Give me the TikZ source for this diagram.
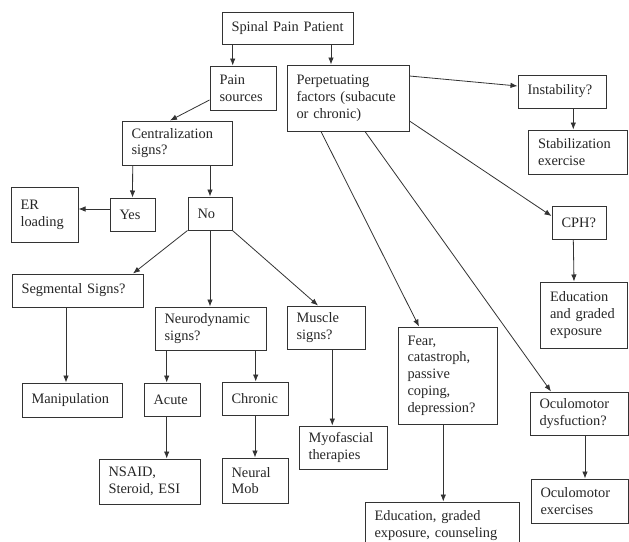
\documentclass[tikz,border=0pt]{standalone}
\usepackage{fontspec}
\setmainfont{Liberation Serif}
\usetikzlibrary{arrows.meta}
\hyphenpenalty=10000
\exhyphenpenalty=10000
\begin{document}
\begin{tikzpicture}[x=1pt,y=-1pt,
  bx/.style 2 args={draw=black!80, line width=1pt, inner xsep=9.5pt, inner ysep=0pt,
    align=left, text=black!85, font=\fontsize{14.4}{16.8}\selectfont,
    text width=#1, minimum height=#2},
  arr/.style={draw=black!80, line width=0.8pt, -{Latex[length=7pt,width=5.5pt]}}]
\clip (0,0) rectangle (629,541);
\fill[white] (0,0) rectangle (629,541);
% boxes
\node[bx={112pt}{32pt}] (spinal) at (287.5,28) {Spinal Pain Patient};
\node[bx={47pt}{44pt}] (pain) at (243,88) {Pain\\sources};
\node[bx={103pt}{66pt}] (perp) at (348,98) {Perpetuating\\factors (subacute\\or chronic)};
\node[bx={91pt}{44pt}] (centr) at (177,143) {Centralization\\signs?};
\node[bx={69pt}{33pt}] (instab) at (562,91.5) {Instability?};
\node[bx={80pt}{44pt}] (stab) at (578,152) {Stabilization\\exercise};
\node[bx={48pt}{55pt}] (er) at (44.5,214.5) {ER\\loading};
\node[bx={26pt}{33pt}] (yes) at (132.5,214.5) {Yes};
\node[bx={25pt}{33pt}] (no) at (210,213.5) {No};
\node[bx={112pt}{33pt}] (seg) at (77.5,290.5) {Segmental Signs?};
\node[bx={92pt}{43pt}] (neuro) at (210.5,328.5) {Neurodynamic\\signs?};
\node[bx={59pt}{43pt}] (muscle) at (326,327.5) {Muscle\\signs?};
\node[bx={35pt}{33pt}] (cph) at (579,222.5) {CPH?};
\node[bx={68pt}{66pt}] (edua) at (584,315) {Education\\and graded\\exposure};
\node[bx={80pt}{97pt}] (fear) at (447.5,375.5) {Fear,\\catastroph,\\passive\\coping,\\depression?};
\node[bx={79pt}{43pt}] (ocd) at (579,413.5) {Oculomotor\\dysfuction?};
\node[bx={78pt}{44pt}] (oce) at (579.5,501) {Oculomotor\\exercises};
\node[bx={135pt}{47pt}] (edub) at (442,525.5) {Education, graded\\exposure, counseling};
\node[bx={69pt}{43pt}] (myo) at (343,447.5) {Myofascial\\therapies};
\node[bx={81pt}{34pt}] (manip) at (72,400) {Manipulation};
\node[bx={37pt}{33pt}] (acute) at (172,399.5) {Acute};
\node[bx={47pt}{33pt}] (chronic) at (255,398.5) {Chronic};
\node[bx={82pt}{45pt}] (nsaid) at (149.5,481.5) {NSAID,\\Steroid, ESI};
\node[bx={47pt}{45pt}] (neural) at (255,480.5) {Neural\\Mob};
% connectors
\draw[arr] ([xshift=-54.8pt]spinal.south) -- ([xshift=-10.3pt]pain.north);
\draw[arr] ([xshift=43.5pt]spinal.south) -- ([xshift=-17pt]perp.north);
\draw[arr] ([yshift=-12pt]pain.west) -- ([xshift=-7pt]centr.north);
\draw[arr] ([yshift=22pt]perp.east) -- ([yshift=5.5pt]instab.west);
\draw[arr] ([xshift=11.3pt]instab.south) -- ([xshift=-4.7pt]stab.north);
\draw[arr] ([yshift=-23pt]perp.east) -- ([yshift=6.5pt]cph.west);
\draw[arr] ([xshift=-27pt]perp.south) -- ([xshift=-28.5pt]fear.north);
\draw[arr] ([xshift=17pt]perp.south) -- ([xshift=-28pt]ocd.north);
\draw[arr] ([xshift=-5.7pt]cph.south) -- ([xshift=-10pt]edua.north);
\draw[arr] ([xshift=-44.3pt]centr.south) -- (yes.north);
\draw[arr] ([xshift=33pt]centr.south) -- (no.north);
\draw[arr] ([yshift=5.5pt]yes.west) -- ([yshift=5.5pt]er.east);
\draw[arr] (no.south west) -- ([xshift=55.5pt]seg.north);
\draw[arr] (no.south) -- (no.south |- neuro.north);
\draw[arr] (no.south east) -- ([xshift=-8pt]muscle.north);
\draw[arr] ([xshift=-11.5pt]seg.south) -- ([xshift=-6pt]manip.north);
\draw[arr] ([xshift=-43.8pt]neuro.south) -- ([xshift=-5.3pt]acute.north);
\draw[arr] ([xshift=45.2pt]neuro.south) -- ([xshift=0.7pt]chronic.north);
\draw[arr] ([xshift=6.3pt]muscle.south) -- ([xshift=-10.7pt]myo.north);
\draw[arr] ([xshift=-5.3pt]acute.south) -- ([xshift=17.2pt]nsaid.north);
\draw[arr] (chronic.south) -- (neural.north);
\draw[arr] ([xshift=-4.2pt]fear.south) -- ([xshift=1.3pt]edub.north);
\draw[arr] ([xshift=6pt]ocd.south) -- ([xshift=5.5pt]oce.north);
\end{tikzpicture}
\end{document}
